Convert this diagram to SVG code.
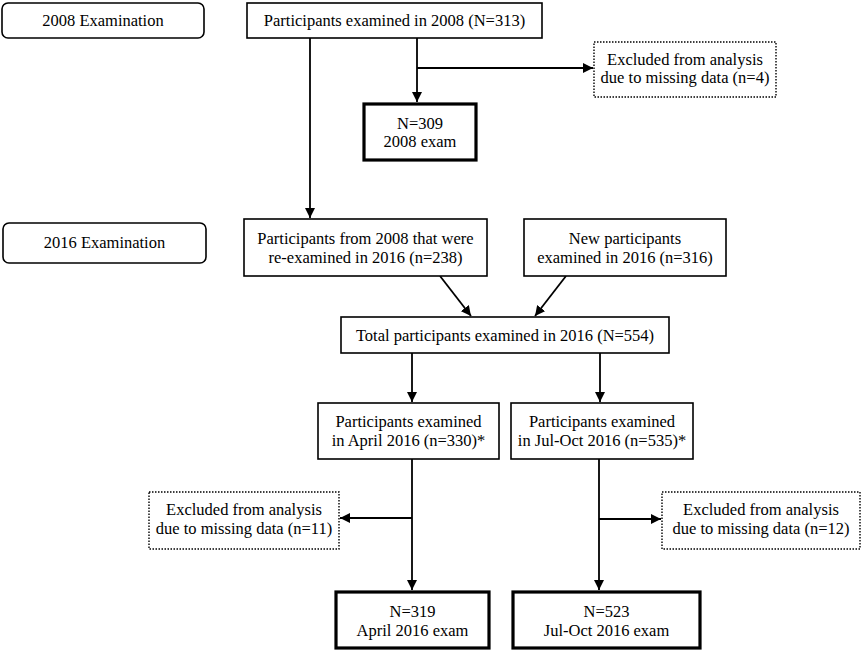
<svg xmlns="http://www.w3.org/2000/svg" width="863" height="652" viewBox="0 0 863 652">
<style>
text{font-family:'Liberation Serif','Times New Roman','DejaVu Serif',serif;font-size:16.5px;fill:#000;text-anchor:middle}
.box{fill:#fff;stroke:#000;stroke-width:1.6}
.thick{fill:#fff;stroke:#000;stroke-width:3.2}
.dot{fill:#fff;stroke:#000;stroke-width:1.4;stroke-dasharray:1.5 1.5}
.lbl{fill:#fff;stroke:#000;stroke-width:1.6}
.c{fill:none;stroke:#000;stroke-width:1.8;marker-end:url(#ah)}
</style>
<defs>
<marker id="ah" viewBox="0 0 10 10" refX="10" refY="5" markerWidth="10" markerHeight="10" markerUnits="userSpaceOnUse" orient="auto">
<path d="M0,0 L10,5 L0,10 z" fill="#000"/>
</marker>
</defs>
<g id="connectors">
<path class="c" d="M310,38 V218"/>
<path class="c" d="M417,38 V102"/>
<path class="c" d="M417,68 H593"/>
<path class="c" d="M440,276 L471,316"/>
<path class="c" d="M566,276 L535,316"/>
<path class="c" d="M412,353 V402"/>
<path class="c" d="M600,353 V402"/>
<path class="c" d="M412,459 V590"/>
<path class="c" d="M412,518 H340"/>
<path class="c" d="M599,459 V590"/>
<path class="c" d="M599,519 H661"/>
</g>
<g id="label2008"><rect class="lbl" x="2" y="3" width="202" height="35" rx="6"/><text x="103" y="26">2008 Examination</text></g>
<g id="p2008"><rect class="box" x="247" y="3" width="295" height="35"/><text x="394.5" y="26">Participants examined in 2008 (N=313)</text></g>
<g id="ex4"><rect class="dot" x="594" y="42" width="182" height="55"/><text x="685" y="65">Excluded from analysis</text><text x="685" y="83">due to missing data (n=4)</text></g>
<g id="n309"><rect class="thick" x="364" y="104" width="112" height="56"/><text x="420" y="129">N=309</text><text x="420" y="147">2008 exam</text></g>
<g id="label2016"><rect class="lbl" x="3" y="223" width="203" height="40" rx="6"/><text x="104.5" y="248">2016 Examination</text></g>
<g id="reexam"><rect class="box" x="244" y="219" width="243" height="57"/><text x="365.5" y="244">Participants from 2008 that were</text><text x="365.5" y="263">re-examined in 2016 (n=238)</text></g>
<g id="newp"><rect class="box" x="524" y="219" width="202" height="57"/><text x="625" y="244">New participants</text><text x="625" y="263">examined in 2016 (n=316)</text></g>
<g id="total"><rect class="box" x="341" y="317" width="328" height="36"/><text x="505" y="341">Total participants examined in 2016 (N=554)</text></g>
<g id="april"><rect class="box" x="318" y="403" width="181" height="56"/><text x="408.5" y="427">Participants examined</text><text x="408.5" y="446">in April 2016 (n=330)*</text></g>
<g id="juloct"><rect class="box" x="511" y="403" width="182" height="56"/><text x="602" y="427">Participants examined</text><text x="602" y="446">in Jul-Oct 2016 (n=535)*</text></g>
<g id="ex11"><rect class="dot" x="149" y="492" width="190" height="57"/><text x="244" y="515">Excluded from analysis</text><text x="244" y="534">due to missing data (n=11)</text></g>
<g id="ex12"><rect class="dot" x="662" y="492" width="198" height="57"/><text x="761" y="515">Excluded from analysis</text><text x="761" y="534">due to missing data (n=12)</text></g>
<g id="n319"><rect class="thick" x="336" y="592" width="153" height="56"/><text x="412.5" y="617">N=319</text><text x="412.5" y="636">April 2016 exam</text></g>
<g id="n523"><rect class="thick" x="513" y="592" width="187" height="56"/><text x="606.5" y="617">N=523</text><text x="606.5" y="636">Jul-Oct 2016 exam</text></g>
</svg>
